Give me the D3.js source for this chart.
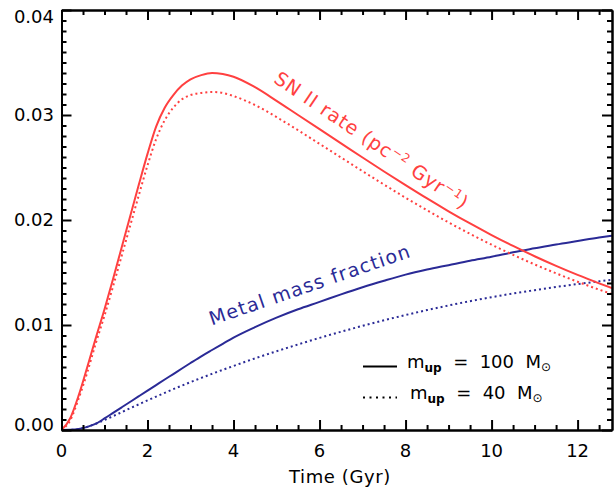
<!DOCTYPE html>
<html><head><meta charset="utf-8">
<script src="https://cdn.jsdelivr.net/npm/d3@7"></script>
<style>
html,body{margin:0;padding:0;background:#fff;}
svg text{font-family:"DejaVu Sans",sans-serif;}
</style></head>
<body><svg id="c" width="614" height="489"></svg>
<script>
const timeGyr = [0,0.2,0.4,0.6,0.8,1.0,1.2,1.4,1.6,1.8,2.0,2.2,2.4,2.6,2.8,3.0,3.25,3.5,3.75,4.0,4.5,5.0,5.5,6.0,6.5,7.0,7.5,8.0,8.5,9.0,9.5,10.0,10.5,11.0,11.5,12.0,12.5,12.8];
const snRateMup100 = [0,0.0011,0.0033,0.0060,0.0088,0.0115,0.0144,0.0174,0.0204,0.0234,0.0263,0.0289,0.0307,0.0319,0.0328,0.0334,0.0338,0.0340,0.0339,0.03365,0.03265,0.03135,0.03000,0.02865,0.02730,0.02595,0.02462,0.02332,0.02205,0.02083,0.01967,0.01857,0.01753,0.01655,0.01563,0.01477,0.01397,0.01351];
const snRateMup40 = [0,0.0009,0.0030,0.0055,0.0083,0.0109,0.0137,0.0166,0.0195,0.0224,0.0252,0.0277,0.0295,0.0307,0.0315,0.0319,0.0321,0.0322,0.0321,0.0318,0.03095,0.02980,0.02855,0.02725,0.02595,0.02465,0.02337,0.02212,0.02092,0.01977,0.01868,0.01765,0.01668,0.01577,0.01492,0.01412,0.01337,0.01295];
const metalMup100 = [0,0.00002,0.0001,0.0003,0.0006,0.0011,0.00163,0.00216,0.00269,0.00322,0.00375,0.00428,0.00481,0.00533,0.00586,0.00638,0.00702,0.00762,0.00821,0.0088,0.0098,0.0107,0.0115,0.0122,0.01292,0.0136,0.01422,0.0148,0.01528,0.0157,0.01612,0.0165,0.01692,0.0173,0.01767,0.0180,0.01833,0.0185];
const metalMup40 = [0,0.00001,0.00008,0.0003,0.0006,0.00095,0.00132,0.0017,0.00208,0.00245,0.00282,0.00318,0.00354,0.00389,0.00423,0.00456,0.00496,0.00535,0.00573,0.0061,0.00682,0.0075,0.00815,0.00877,0.00936,0.00992,0.01045,0.01095,0.01142,0.01186,0.01227,0.01265,0.013,0.01332,0.01362,0.0139,0.01416,0.01431];
const xTicks = [0,2,4,6,8,10,12];
const yTicks = [0.00,0.01,0.02,0.03,0.04];
const xLabel = "Time (Gyr)";

const RED = "#ff4040", BLUE = "#2a2a96";
const svg = d3.select("#c");
const L = 61.5, R = 612, T = 10, B = 430;
const x = d3.scaleLinear().domain([0,12.8]).range([L,R]);
const y = d3.scaleLinear().domain([0,0.04]).range([B,T]);

svg.append("clipPath").attr("id","cp").append("rect")
  .attr("x",L).attr("y",T).attr("width",R-L).attr("height",B-T);

const lineGen = (vals) => d3.line().x((d,i)=>x(timeGyr[i])).y(d=>y(d)).curve(d3.curveMonotoneX)(vals);
const plotG = svg.append("g").attr("clip-path","url(#cp)");
function drawCurve(vals,color,dotted){
  plotG.append("path").attr("d",lineGen(vals)).attr("fill","none").attr("stroke",color)
   .attr("stroke-width",2).attr("stroke-dasharray",dotted?"2,3":null);
}
drawCurve(metalMup40,BLUE,true);
drawCurve(metalMup100,BLUE,false);
drawCurve(snRateMup40,RED,true);
drawCurve(snRateMup100,RED,false);

// axes (inward ticks, box)
const xMinor = d3.range(0,12.81,0.5).filter(v=>!xTicks.includes(v));
const yMinor = d3.range(0,0.04001,0.001).map(v=>+v.toFixed(3)).filter(v=>!yTicks.some(t=>Math.abs(t-v)<1e-9));
const axG = svg.append("g");
const axBottom = d3.axisBottom(x).tickValues(xTicks).tickSize(-10).tickFormat("").tickSizeOuter(0);
const axBottomMinor = d3.axisBottom(x).tickValues(xMinor).tickSize(-5).tickFormat("").tickSizeOuter(0);
const axTop = d3.axisTop(x).tickValues(xTicks).tickSize(-10).tickFormat("").tickSizeOuter(0);
const axTopMinor = d3.axisTop(x).tickValues(xMinor).tickSize(-5).tickFormat("").tickSizeOuter(0);
const axLeft = d3.axisLeft(y).tickValues(yTicks).tickSize(-10).tickFormat("").tickSizeOuter(0);
const axLeftMinor = d3.axisLeft(y).tickValues(yMinor).tickSize(-5).tickFormat("").tickSizeOuter(0);
const axRight = d3.axisRight(y).tickValues(yTicks).tickSize(-10).tickFormat("").tickSizeOuter(0);
const axRightMinor = d3.axisRight(y).tickValues(yMinor).tickSize(-5).tickFormat("").tickSizeOuter(0);
[[axBottom,`translate(0,${B})`],[axBottomMinor,`translate(0,${B})`],[axTop,`translate(0,${T})`],[axTopMinor,`translate(0,${T})`],
 [axLeft,`translate(${L},0)`],[axLeftMinor,`translate(${L},0)`],[axRight,`translate(${R},0)`],[axRightMinor,`translate(${R},0)`]]
 .forEach(([a,t])=>{
   const gg = axG.append("g").attr("transform",t).call(a);
   gg.selectAll("line").attr("stroke","#000").attr("stroke-width",2);
   gg.select(".domain").attr("stroke","#000").attr("stroke-width",2);
 });

// tick labels
svg.append("g").selectAll("text").data(xTicks).join("text")
  .attr("x",d=>x(d)).attr("y",457).attr("text-anchor","middle")
  .attr("font-size",18).attr("fill","#000").text(d=>d);
svg.append("g").selectAll("text").data(yTicks).join("text")
  .attr("x",54).attr("y",d=>Math.min(Math.max(y(d),17),425)).attr("dy","0.36em").attr("text-anchor","end")
  .attr("font-size",18).attr("fill","#000").text(d=>d.toFixed(2));
svg.append("text").attr("x",340).attr("y",483).attr("text-anchor","middle")
  .attr("font-size",18).attr("letter-spacing",0.6).attr("fill","#000").text(xLabel);

// curve labels
const sn = svg.append("text").attr("transform","translate(368,146) rotate(34)")
  .attr("text-anchor","middle").attr("font-size",19).attr("letter-spacing",1).attr("fill",RED);
sn.append("tspan").text("SN II rate (pc");
sn.append("tspan").attr("dy",-7).attr("font-size",12).text("−2");
sn.append("tspan").attr("dy",7).text(" Gyr");
sn.append("tspan").attr("dy",-7).attr("font-size",12).text("−1");
sn.append("tspan").attr("dy",7).text(")");

svg.append("text").attr("transform","translate(312,291) rotate(-19)")
  .attr("text-anchor","middle").attr("font-size",19).attr("letter-spacing",1.3).attr("fill",BLUE)
  .text("Metal mass fraction");

// legend
const legendItems = [{dotted:false,val:"100"},{dotted:true,val:"40"}];
const lg = svg.append("g");
legendItems.forEach((d,i)=>{
  const yy = 368 + i*31;
  lg.append("line").attr("x1",363).attr("x2",397).attr("y1",yy-1.5).attr("y2",yy-1.5)
    .attr("stroke","#000").attr("stroke-width",2).attr("stroke-dasharray",d.dotted?"2,4.5":null);
  const t = lg.append("text").attr("x",d.dotted?410:407).attr("y",yy).attr("font-size",18).attr("fill","#000")
    .style("white-space","pre");
  t.append("tspan").text("m");
  t.append("tspan").attr("dy",4).attr("font-size",12).attr("font-weight","bold").text("up");
  t.append("tspan").attr("dy",-4).text("  =  " + d.val + "  M");
  t.append("tspan").attr("dy",3).attr("font-size",12).text("⊙");
});
</script></body></html>
